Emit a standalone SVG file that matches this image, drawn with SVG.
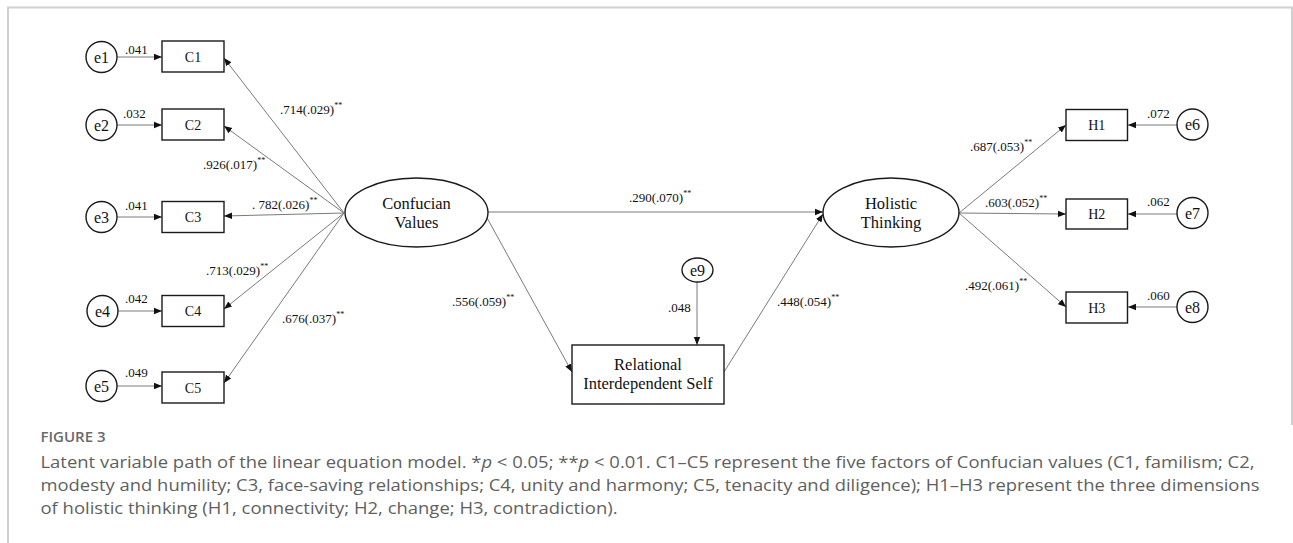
<svg xmlns="http://www.w3.org/2000/svg" width="1293" height="543" viewBox="0 0 1293 543">
<style>
.node{fill:#fff;stroke:#1a1a1a;stroke-width:1.4}
.con{fill:none;stroke:#7a7a7a;stroke-width:1}
.t{font-family:"Liberation Serif","Times New Roman",serif;fill:#111}
.nl{font-size:14px;text-anchor:middle}
.el{font-size:16px;text-anchor:middle}
.ll{font-size:16.5px;text-anchor:middle}
.pl{font-size:13px}
.sup{font-size:8px}
.cap{font-family:"Open Sans","Liberation Sans",sans-serif;fill:#5f5f5f}
</style>
<defs>
<marker id="ah" viewBox="0 0 10 10" refX="10" refY="5" markerWidth="8" markerHeight="8" markerUnits="userSpaceOnUse" orient="auto">
<path d="M0,1 L10,5 L0,9 Z" fill="#111"/>
</marker>
</defs>
<rect x="0" y="0" width="1293" height="543" fill="#fff"/>
<g id="frame" fill="none" stroke="#cfcfcf" stroke-width="2">
<path d="M8,543 L8,7.5 L1292,7.5 L1292,425"/>
</g>
<g id="connectors" class="con" marker-end="url(#ah)">
<line x1="117" y1="57" x2="162" y2="57"/>
<line x1="117" y1="125" x2="162" y2="125"/>
<line x1="117" y1="217" x2="162" y2="217"/>
<line x1="118" y1="311" x2="162" y2="311"/>
<line x1="117" y1="386" x2="162" y2="386"/>
<line x1="344" y1="213" x2="224" y2="58"/>
<line x1="344" y1="213" x2="224" y2="126"/>
<line x1="344" y1="213" x2="224" y2="216"/>
<line x1="344" y1="213" x2="224" y2="309"/>
<line x1="344" y1="213" x2="224" y2="383"/>
<line x1="488" y1="212" x2="823" y2="212"/>
<line x1="486" y1="216" x2="572" y2="372"/>
<line x1="724" y1="372" x2="823" y2="214"/>
<line x1="697" y1="282" x2="697" y2="345"/>
<line x1="959" y1="213" x2="1066" y2="125"/>
<line x1="959" y1="213" x2="1066" y2="214"/>
<line x1="959" y1="213" x2="1066" y2="307"/>
<line x1="1177" y1="125" x2="1128" y2="125"/>
<line x1="1177" y1="214" x2="1128" y2="214"/>
<line x1="1177" y1="307" x2="1128" y2="307"/>
</g>
<g id="e1"><circle class="node" cx="101.5" cy="57" r="15.5"/><text class="t el" x="101.5" y="62.5">e1</text></g>
<g id="e2"><circle class="node" cx="101.5" cy="125" r="15.5"/><text class="t el" x="101.5" y="130.5">e2</text></g>
<g id="e3"><circle class="node" cx="101.5" cy="217" r="15.5"/><text class="t el" x="101.5" y="222.5">e3</text></g>
<g id="e4"><circle class="node" cx="102.5" cy="311" r="15.5"/><text class="t el" x="102.5" y="316.5">e4</text></g>
<g id="e5"><circle class="node" cx="101.5" cy="386" r="15.5"/><text class="t el" x="101.5" y="391.5">e5</text></g>
<g id="C1"><rect class="node" x="162" y="41" width="62" height="31"/><text class="t nl" x="193" y="61.5">C1</text></g>
<g id="C2"><rect class="node" x="162" y="109" width="62" height="31"/><text class="t nl" x="193" y="129.5">C2</text></g>
<g id="C3"><rect class="node" x="162" y="201.5" width="62" height="31"/><text class="t nl" x="193" y="222">C3</text></g>
<g id="C4"><rect class="node" x="162" y="295.5" width="62" height="31"/><text class="t nl" x="193" y="316">C4</text></g>
<g id="C5"><rect class="node" x="162" y="372" width="62" height="31"/><text class="t nl" x="193" y="392.5">C5</text></g>
<g id="confucian"><ellipse class="node" cx="416.5" cy="212.5" rx="71.5" ry="34.5"/><text class="t ll" x="416.5" y="208.5">Confucian</text><text class="t ll" x="416.5" y="228">Values</text></g>
<g id="holistic"><ellipse class="node" cx="891" cy="212.5" rx="68" ry="34.5"/><text class="t ll" x="891" y="208.5">Holistic</text><text class="t ll" x="891" y="228">Thinking</text></g>
<g id="relational"><rect class="node" x="572" y="345" width="152" height="59"/><text class="t ll" x="648" y="369.5">Relational</text><text class="t ll" x="648" y="389">Interdependent Self</text></g>
<g id="e9"><ellipse class="node" cx="697.5" cy="270" rx="15.5" ry="12"/><text class="t el" x="697.5" y="275.5">e9</text></g>
<g id="H1"><rect class="node" x="1066" y="109.5" width="61.5" height="31"/><text class="t nl" x="1096.75" y="130">H1</text></g>
<g id="H2"><rect class="node" x="1066" y="199" width="61.5" height="30"/><text class="t nl" x="1096.75" y="219">H2</text></g>
<g id="H3"><rect class="node" x="1066" y="292" width="61.5" height="31"/><text class="t nl" x="1096.75" y="312.5">H3</text></g>
<g id="e6"><circle class="node" cx="1192.5" cy="124.5" r="15.5"/><text class="t el" x="1192.5" y="130">e6</text></g>
<g id="e7"><circle class="node" cx="1192.5" cy="213" r="15.5"/><text class="t el" x="1192.5" y="218.5">e7</text></g>
<g id="e8"><circle class="node" cx="1192.5" cy="307" r="15.5"/><text class="t el" x="1192.5" y="312.5">e8</text></g>
<g id="labels" class="t pl">
<text x="125" y="54">.041</text>
<text x="123" y="118">.032</text>
<text x="125" y="210">.041</text>
<text x="125" y="303">.042</text>
<text x="125" y="377">.049</text>
<text x="280" y="114">.714(.029)<tspan class="sup" dy="-6">**</tspan></text>
<text x="203" y="169">.926(.017)<tspan class="sup" dy="-6">**</tspan></text>
<text x="252" y="209">. 782(.026)<tspan class="sup" dy="-6">**</tspan></text>
<text x="206" y="275">.713(.029)<tspan class="sup" dy="-6">**</tspan></text>
<text x="282" y="323">.676(.037)<tspan class="sup" dy="-6">**</tspan></text>
<text x="629" y="202">.290(.070)<tspan class="sup" dy="-6">**</tspan></text>
<text x="452" y="306">.556(.059)<tspan class="sup" dy="-6">**</tspan></text>
<text x="668" y="312">.048</text>
<text x="777" y="306">.448(.054)<tspan class="sup" dy="-6">**</tspan></text>
<text x="970" y="151">.687(.053)<tspan class="sup" dy="-6">**</tspan></text>
<text x="985" y="207">.603(.052)<tspan class="sup" dy="-6">**</tspan></text>
<text x="965" y="290">.492(.061)<tspan class="sup" dy="-6">**</tspan></text>
<text x="1147" y="118">.072</text>
<text x="1147" y="206">.062</text>
<text x="1147" y="300">.060</text>
</g>
<g id="caption" class="cap">
<text x="40.5" y="441.5" font-size="15" font-weight="600" fill="#6a6a6a">FIGURE 3</text>
<text x="40.5" y="467.5" font-size="16.5" textLength="1214" lengthAdjust="spacingAndGlyphs">Latent variable path of the linear equation model. *<tspan font-style="italic">p</tspan> &lt; 0.05; **<tspan font-style="italic">p</tspan> &lt; 0.01. C1–C5 represent the five factors of Confucian values (C1, familism; C2,</text>
<text x="40.5" y="490.5" font-size="16.5" textLength="1219" lengthAdjust="spacingAndGlyphs">modesty and humility; C3, face-saving relationships; C4, unity and harmony; C5, tenacity and diligence); H1–H3 represent the three dimensions</text>
<text x="40.5" y="513.5" font-size="16.5" textLength="577" lengthAdjust="spacingAndGlyphs">of holistic thinking (H1, connectivity; H2, change; H3, contradiction).</text>
</g>
</svg>
